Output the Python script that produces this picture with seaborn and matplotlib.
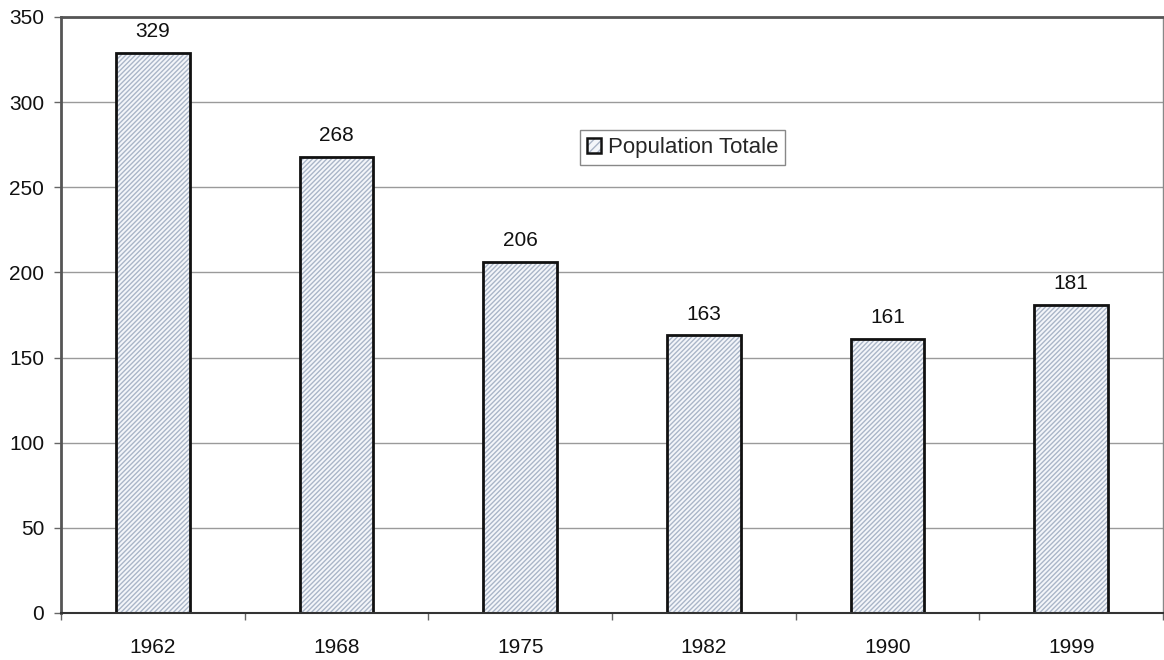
import matplotlib
matplotlib.use("Agg")
import matplotlib.pyplot as plt
import seaborn as sns
import pandas as pd
from matplotlib.patches import Patch
from matplotlib.legend_handler import HandlerTuple

years = ["1962", "1968", "1975", "1982", "1990", "1999"]
population = [329, 268, 206, 163, 161, 181]
series_name = "Population Totale"
y_ticks = [0, 50, 100, 150, 200, 250, 300, 350]

df = pd.DataFrame({"Année": years, "Population": population})

sns.set_theme(style="white")
plt.rcParams["font.family"] = ["Liberation Sans", "DejaVu Sans"]
plt.rcParams["hatch.linewidth"] = 1.0

fig = plt.figure(figsize=(11.64, 6.6), dpi=100)
ax = fig.add_axes([61 / 1164, 47 / 660, 1102 / 1164, 596 / 660])

face = "#f4f6fa"
hatch_col = "#aab6c8"
hatch = "///////"
# hatched fill
sns.barplot(data=df, x="Année", y="Population", ax=ax, color=face,
            saturation=1, width=0.4, errorbar=None)
for p in ax.patches:
    p.set_hatch(hatch)
    p.set_edgecolor(hatch_col)
    p.set_linewidth(0)
# black outline
sns.barplot(data=df, x="Année", y="Population", ax=ax, color="#111111",
            fill=False, width=0.4, linewidth=2, errorbar=None)

ax.set_xlim(-0.5, len(years) - 0.5)
ax.set_ylim(0, 350)
ax.set_yticks(y_ticks)
ax.set_xlabel("")
ax.set_ylabel("")
ax.grid(axis="y", color="#9a9a9a", linewidth=1)
ax.set_axisbelow(True)

# value labels
for i, v in enumerate(population):
    ax.text(i, v + 7, str(v), ha="center", va="bottom", fontsize=15, color="#111111")

# ticks: y on left, x at category boundaries
ax.tick_params(axis="y", which="major", left=True, length=5, width=1,
               color="#666666", labelsize=15, labelcolor="#111111", pad=7)
ax.set_xticks(range(len(years)))
ax.set_xticklabels(years)
ax.tick_params(axis="x", which="major", bottom=False, labelsize=15,
               labelcolor="#111111", pad=12)
ax.set_xticks([i - 0.5 for i in range(len(years) + 1)], minor=True)
ax.tick_params(axis="x", which="minor", bottom=True, length=5, width=1, color="#666666")

for side in ["left", "top"]:
    ax.spines[side].set_color("#555555")
    ax.spines[side].set_linewidth(2)
ax.spines["bottom"].set_color("#333333")
ax.spines["bottom"].set_linewidth(1.5)
ax.spines["right"].set_color("#888888")
ax.spines["right"].set_linewidth(1)

handle = (Patch(facecolor=face, hatch="////", edgecolor=hatch_col, linewidth=0),
          Patch(fill=False, edgecolor="#111111", linewidth=1.8))
leg = ax.legend([handle], [series_name], handler_map={tuple: HandlerTuple(ndivide=1, pad=0)},
                loc="upper left", bbox_to_anchor=(0.471, 0.81), fontsize=16,
                frameon=True, fancybox=False, framealpha=1, edgecolor="#888888",
                handlelength=0.65, handleheight=0.65, handletextpad=0.3,
                borderpad=0.3, borderaxespad=0)
leg.get_frame().set_linewidth(1)

fig.savefig("out.png", dpi=100)
